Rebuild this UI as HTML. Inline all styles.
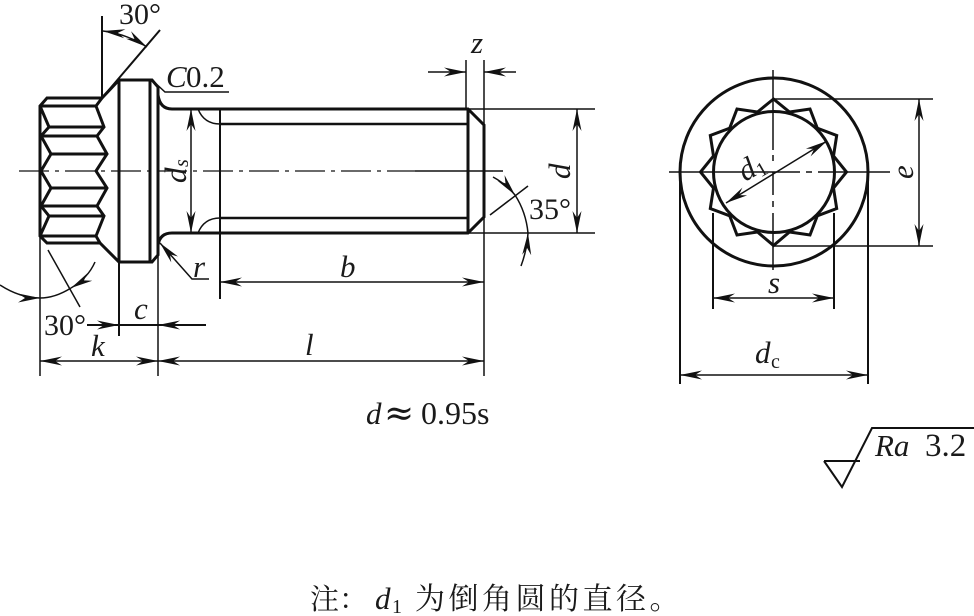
<!DOCTYPE html>
<html><head><meta charset="utf-8"><style>
html,body{margin:0;padding:0;background:#fff}
svg{display:block}
text{font-family:"Liberation Serif","Noto Serif CJK SC",serif;fill:#1a1a1a;font-size:30px}
.l{font-size:31px}
.i{font-style:italic;font-size:31px}
.sub{font-size:20px}
.k{fill:none;stroke:#111;stroke-width:3;stroke-linejoin:miter}
.m{fill:none;stroke:#111;stroke-width:2.4}
.t{fill:none;stroke:#111;stroke-width:1.5}
.h{fill:none;stroke:#111;stroke-width:2}
.c{fill:none;stroke:#111;stroke-width:1.3;stroke-dasharray:30 6 4 6}
</style></head><body>
<svg width="974" height="616" viewBox="0 0 974 616" xmlns="http://www.w3.org/2000/svg">
<defs>
<marker id="a" markerUnits="userSpaceOnUse" markerWidth="24" markerHeight="12" refX="22" refY="6" orient="auto-start-reverse"><path d="M22 6L0 1.500L7 6L0 10.500Z" fill="#111"/></marker>
</defs>
<!-- head -->
<path class="k" d="M40 106L47 98H102L119 80H152L158 87V95Q160 109 172 109H468L484 125V217L468 233H172Q160 233 158 245V255L152 262H119L100 243H47L40 236Z"/>
<path class="k" d="M119 80V262M150 80V262M158 87V255M40 106H96L104 127L97 136L107 154L96 171L107 188L97 206L104 216L96 236H40M49 127H104M41 136H97M51 154H107M51 188H107M41 206H97M49 216H104M40 106L49 127L41 136L51 154L41 171L51 188L41 206L49 216L40 236M96 106L102 98M96 236L100 243M468 109V233"/>
<path class="m" d="M220 124H468M220 218H468"/>
<path class="h" d="M220 109V299"/>
<path class="t" d="M198 109Q204 124 220 124M198 233Q204 218 220 218"/>
<path class="c" d="M19 171H415"/>
<path class="t" d="M415 171H503"/>
<!-- top-left 30 -->
<path class="h" d="M102 16V98L160 30"/>
<path class="t" d="M103 31Q127 34 147 47" marker-start="url(#a)" marker-end="url(#a)"/>
<text x="119" y="24">30°</text>
<!-- C0.2 -->
<text x="166" y="87" class="i">C</text><text x="186" y="87" class="l">0.2</text>
<path class="t" d="M152 80L165 92H229"/>
<!-- ds -->
<path class="t" d="M191 109V233" marker-start="url(#a)" marker-end="url(#a)"/>
<g transform="translate(186 183) rotate(-90)"><text class="i">d</text><text x="16" y="2" class="i" style="font-size:20px">s</text></g>
<!-- r -->
<path class="t" d="M209 279H192L160 243" marker-end="url(#a)"/>
<text x="193" y="277" class="i">r</text>
<!-- left 30 -->
<path class="t" d="M48 250L80 307"/>
<path class="t" d="M0 285Q20 298 40 298" marker-end="url(#a)"/>
<path class="t" d="M95 262Q88 278 71 288" marker-end="url(#a)"/>
<path class="t" d="M71 288Q55 298 40 298"/>
<text x="44" y="335">30°</text>
<!-- c -->
<path class="h" d="M87 325H119" marker-end="url(#a)"/>
<path class="h" d="M206 325H158" marker-end="url(#a)"/>
<path class="h" d="M119 262V336M119 325H158"/>
<text x="134" y="319" class="i">c</text>
<!-- k l -->
<path class="t" d="M40 236V376M158 255V376M484 217V376"/>
<path class="t" d="M40 361H158" marker-start="url(#a)" marker-end="url(#a)"/>
<path class="t" d="M158 361H484" marker-start="url(#a)" marker-end="url(#a)"/>
<text x="91" y="356" class="i">k</text>
<text x="305" y="355" class="i">l</text>
<!-- b -->
<path class="t" d="M220 282H484" marker-start="url(#a)" marker-end="url(#a)"/>
<text x="340" y="277" class="i">b</text>
<!-- z -->
<path class="t" d="M466 60V109M484 60V125"/>
<path class="t" d="M428 72H466" marker-end="url(#a)"/>
<path class="t" d="M516 72H484" marker-end="url(#a)"/>
<text x="471" y="53" class="i">z</text>
<!-- d -->
<path class="t" d="M468 109H595M468 233H595"/>
<path class="t" d="M577 109V233" marker-start="url(#a)" marker-end="url(#a)"/>
<text transform="translate(570 179) rotate(-90)" class="i">d</text>
<!-- 35 -->
<path class="t" d="M490 215L528 186"/>
<path class="t" d="M493 177Q506 184 515 195" marker-end="url(#a)"/>
<path class="t" d="M515 195Q526 212 528 233"/>
<path class="t" d="M521 266Q527 250 528 233" marker-end="url(#a)"/>
<text x="529" y="219">35°</text>
<!-- d approx -->
<text x="366" y="424" class="i">d</text>
<text x="384" y="425" style="font-family:'DejaVu Serif',serif;font-size:36px">≈</text>
<text x="421" y="424" style="font-size:32px">0.95s</text>
<!-- right view -->
<circle cx="774" cy="172" r="94" class="k"/>
<circle cx="774" cy="172" r="60.5" class="k"/>
<path class="k" d="M773.5 99L789.5 112L810 109L817.300 128.200L836.700 135.500L833.500 156L846.500 172L833.500 188L836.700 208.500L817.300 215.800L810 235L789.500 232L773.500 245.500L757.500 232L737 235L729.700 215.800L710.300 208.500L713.500 188L700.500 172L713.500 156L710.300 135.500L729.700 128.200L737 109L757.500 112Z"/>
<path class="t" d="M669 172H800M806 172H812M818 172H890"/>
<path class="t" d="M773 70V150M773 155V161M773 172V195M773 201V207M773 213V270"/>
<path class="t" d="M773 99H933M773 246H933"/>
<path class="t" d="M919 99V246" marker-start="url(#a)" marker-end="url(#a)"/>
<text transform="translate(913 179) rotate(-90)" class="i">e</text>
<path class="t" d="M827 141L726 203" marker-start="url(#a)" marker-end="url(#a)"/>
<g transform="translate(745 182) rotate(-30)"><text class="i">d</text><text x="16" y="4" class="sub">1</text></g>
<path class="h" d="M713 213V309M834 213V309M680 172V384M868 172V384"/>
<path class="t" d="M713 298H834" marker-start="url(#a)" marker-end="url(#a)"/>
<text x="768" y="293" class="i">s</text>
<path class="t" d="M680 375H868" marker-start="url(#a)" marker-end="url(#a)"/>
<text x="755" y="363" class="i">d</text><text x="771" y="368" class="sub">c</text>
<!-- roughness -->
<path class="h" d="M824 461H860M824 461L842 487L872 428H974"/>
<text x="875" y="456" class="i">Ra</text><text x="925" y="456" style="font-size:33px">3.2</text>
<!-- note -->
<text x="310" y="609" style="font-size:29px">注：</text>
<text x="375" y="609" class="i">d</text><text x="392" y="613" class="sub">1</text>
<text x="415" y="609" style="font-size:30px;letter-spacing:3.5px">为倒角圆的直径。</text>
</svg>
</body></html>
